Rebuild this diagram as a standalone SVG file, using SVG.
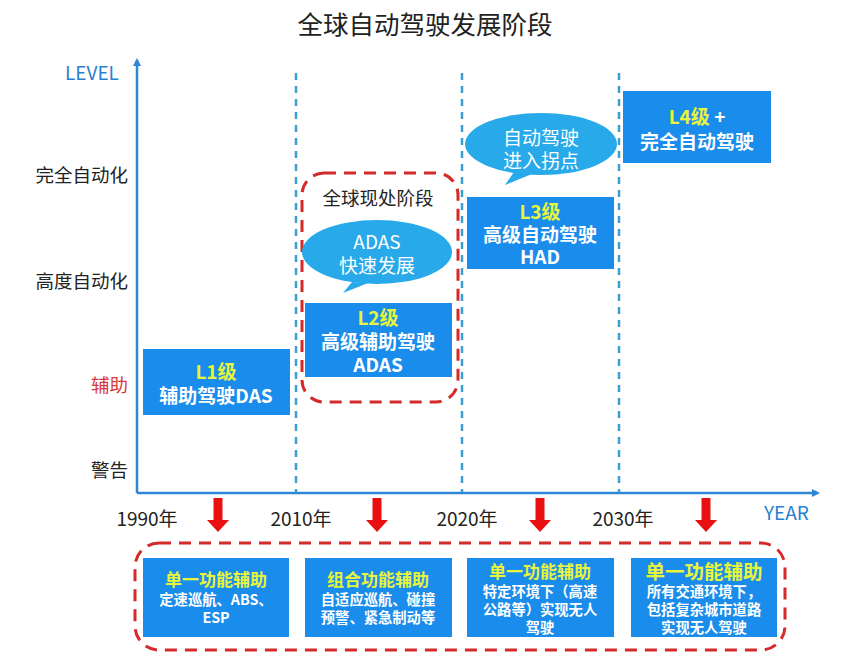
<svg xmlns="http://www.w3.org/2000/svg" width="850" height="660" viewBox="0 0 850 660">
<defs>
<style>
text{font-family:"Noto Sans CJK SC","Noto Sans",sans-serif;}
.title{font-size:25.5px;fill:#222;text-anchor:middle;}
.ylab{font-size:18.5px;fill:#222;text-anchor:end;}
.xlab{font-size:19px;fill:#222;text-anchor:middle;}
.axlab{font-size:19px;fill:#2a7fd0;}
.box{fill:#1a8ceb;}
.bub{fill:#27a9ea;}
.bt{font-size:19px;fill:#fff;font-weight:bold;text-anchor:middle;}
.bty{font-size:19px;fill:#e8f53a;font-weight:bold;text-anchor:middle;}
.bubt{font-size:19px;fill:#fff;text-anchor:middle;}
.st{font-size:14.3px;fill:#fff;font-weight:bold;text-anchor:middle;}
.sty{font-size:17px;fill:#e8f53a;font-weight:bold;text-anchor:middle;}
.vdash{stroke:#3a9fd4;stroke-width:2.5;stroke-dasharray:7,6;fill:none;}
.rdash{stroke:#d42a2a;stroke-width:3;stroke-dasharray:12,8;fill:none;}
.axis{stroke:#2e86d6;stroke-width:2.5;fill:none;}
.rarrow{fill:#e81010;}
</style>
<marker id="ah" markerWidth="8" markerHeight="8" refX="6" refY="4" orient="auto" markerUnits="userSpaceOnUse">
<path d="M0,0 L8,4 L0,8 Z" fill="#2e86d6"/>
</marker>
<path id="dnarrow" d="M-4.5,0 H4.5 V22 H11 L0,34 L-11,22 H-4.5 Z"/>
</defs>
<rect width="850" height="660" fill="#fff"/>
<text class="title" x="425" y="34">全球自动驾驶发展阶段</text>

<g id="axes">
<line class="axis" x1="137" y1="493" x2="137" y2="60" marker-end="url(#ah)"/>
<line class="axis" x1="137" y1="493" x2="818" y2="493" marker-end="url(#ah)"/>
<text class="axlab" x="65" y="80">LEVEL</text>
<text class="axlab" x="764" y="520">YEAR</text>
</g>

<g id="y-labels">
<text class="ylab" x="128" y="182">完全自动化</text>
<text class="ylab" x="128" y="288">高度自动化</text>
<text class="ylab" x="128" y="392" style="fill:#d43a3a">辅助</text>
<text class="ylab" x="128" y="477">警告</text>
</g>

<g id="x-labels">
<text class="xlab" x="147" y="526">1990年</text>
<text class="xlab" x="301" y="526">2010年</text>
<text class="xlab" x="467" y="526">2020年</text>
<text class="xlab" x="623" y="526">2030年</text>
</g>

<g id="connectors">
<line class="vdash" x1="296" y1="73" x2="296" y2="492"/>
<line class="vdash" x1="462" y1="73" x2="462" y2="492"/>
<line class="vdash" x1="619" y1="73" x2="619" y2="492"/>
<use href="#dnarrow" class="rarrow" x="218" y="498"/>
<use href="#dnarrow" class="rarrow" x="377" y="498"/>
<use href="#dnarrow" class="rarrow" x="540" y="498"/>
<use href="#dnarrow" class="rarrow" x="706" y="498"/>
</g>

<g id="current-stage">
<rect class="rdash" x="302" y="173" width="156" height="229" rx="22"/>
<text x="378" y="205" style="font-size:18.5px;fill:#222;text-anchor:middle">全球现处阶段</text>
</g>

<g id="bubble-adas">
<path class="bub" d="M352,282 L343,293 L368,283 Z"/>
<ellipse class="bub" cx="377" cy="252" rx="75" ry="32"/>
<text class="bubt" x="377" y="249">ADAS</text>
<text class="bubt" x="377" y="273">快速发展</text>
</g>

<g id="bubble-l3">
<path class="bub" d="M514,172 L505,185 L532,174 Z"/>
<ellipse class="bub" cx="541" cy="144" rx="76" ry="31"/>
<text class="bubt" x="541" y="145">自动驾驶</text>
<text class="bubt" x="541" y="168">进入拐点</text>
</g>

<g id="l1">
<rect class="box" x="143" y="349" width="147" height="66"/>
<text class="bty" x="216" y="379">L1级</text>
<text class="bt" x="216" y="403">辅助驾驶DAS</text>
</g>

<g id="l2">
<rect class="box" x="305" y="303" width="147" height="74"/>
<text class="bty" x="378" y="325">L2级</text>
<text class="bt" x="378" y="349">高级辅助驾驶</text>
<text class="bt" x="378" y="372">ADAS</text>
</g>

<g id="l3">
<rect class="box" x="467" y="197" width="147" height="72"/>
<text class="bty" x="540" y="219">L3级</text>
<text class="bt" x="540" y="242">高级自动驾驶</text>
<text class="bt" x="540" y="264">HAD</text>
</g>

<g id="l4">
<rect class="box" x="623" y="91" width="148" height="72"/>
<text class="bty" x="697" y="124">L4级<tspan style="fill:#fff"> +</tspan></text>
<text class="bt" x="697" y="149">完全自动驾驶</text>
</g>

<g id="features">
<rect class="rdash" x="135" y="543" width="650" height="107" rx="24"/>
</g>

<g id="f1">
<rect class="box" x="143" y="558" width="146" height="79"/>
<text class="sty" x="216" y="586">单一功能辅助</text>
<text class="st" x="216" y="605">定速巡航、ABS、</text>
<text class="st" x="216" y="623">ESP</text>
</g>

<g id="f2">
<rect class="box" x="305" y="558" width="147" height="79"/>
<text class="sty" x="378" y="586">组合功能辅助</text>
<text class="st" x="378" y="605">自适应巡航、碰撞</text>
<text class="st" x="378" y="623">预警、紧急制动等</text>
</g>

<g id="f3">
<rect class="box" x="467" y="558" width="147" height="79"/>
<text class="sty" x="540" y="578">单一功能辅助</text>
<text class="st" x="540" y="597">特定环境下（高速</text>
<text class="st" x="540" y="615">公路等）实现无人</text>
<text class="st" x="540" y="633">驾驶</text>
</g>

<g id="f4">
<rect class="box" x="631" y="558" width="146" height="79"/>
<text class="sty" x="704" y="579" style="font-size:19.5px">单一功能辅助</text>
<text class="st" x="704" y="597">所有交通环境下，</text>
<text class="st" x="704" y="615">包括复杂城市道路</text>
<text class="st" x="704" y="633">实现无人驾驶</text>
</g>
</svg>
